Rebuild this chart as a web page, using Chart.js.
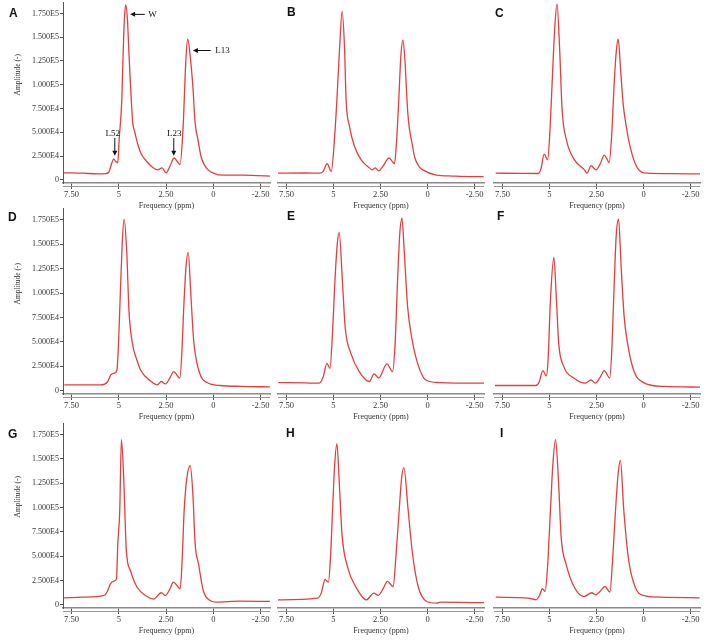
<!DOCTYPE html>
<html lang="en">

<head>
    <meta charset="UTF-8" />
    <title>Spectra A-I</title>
    <script src="https://cdn.jsdelivr.net/npm/chart.js"></script>
    <style>
        body {
            margin: 0;
            background: #fff;
            font-family: "Liberation Serif", serif;
        }

        #wrap {
            position: relative;
            width: 708px;
            height: 642px;
            overflow: hidden;
        }

        canvas {
            position: absolute;
        }

        .letter {
            position: absolute;
            font: bold 12px "Liberation Sans", Arial, sans-serif;
            line-height: 1;
            color: #111;
        }

        .amp {
            position: absolute;
            width: 70px;
            font-size: 7.5px;
            line-height: 1;
            color: #333;
            text-align: center;
            white-space: nowrap;
            transform: rotate(-90deg);
        }
    </style>
</head>

<body>
    <div id="wrap"></div>

    <script>
        // axis ticks
        const yTicks = [0, 25000, 50000, 75000, 100000, 125000, 150000, 175000];
        const xTicks = [7.5, 5, 2.5, 0, -2.5];
        const xTickLabels = ['7.50', '5', '2.50', '0', '-2.50'];

        // spectra (ppm, amplitude)
        const ppmA = [7.93, 6.9, 6.12, 5.7, 5.53, 5.38, 5.27, 5.15, 5.05, 4.98, 4.84, 4.77, 4.7, 4.63, 4.54, 4.47, 4.36, 4.26, 4.15, 4.0, 3.83, 3.46, 3.2, 2.93, 2.71, 2.5, 2.3, 2.07, 1.9, 1.76, 1.61, 1.44, 1.35, 1.2, 1.08, 0.96, 0.81, 0.64, 0.48, 0.27, 0, -0.43, -1.49, -2.3, -3.0];
        const ampA = [7400, 7000, 6300, 6500, 8000, 17000, 22000, 19000, 18000, 42000, 84000, 132000, 170000, 184000, 168000, 137000, 92000, 60000, 50000, 38000, 28000, 18000, 13000, 10500, 12600, 7400, 14000, 23000, 19000, 16000, 50000, 130000, 148000, 126000, 98000, 60000, 42000, 24000, 16000, 10500, 7000, 5000, 5000, 4500, 4000];

        const ppmB = [7.98, 6.5, 5.74, 5.55, 5.34, 5.12, 4.95, 4.82, 4.68, 4.54, 4.41, 4.33, 4.15, 3.88, 3.53, 3.09, 2.95, 2.78, 2.6, 2.35, 2.05, 1.9, 1.76, 1.65, 1.53, 1.42, 1.31, 1.2, 1.13, 1.05, 0.96, 0.82, 0.69, 0.45, 0.25, -0.46, -1.3, -2.23, -2.98];
        const ampB = [7000, 7200, 7000, 9000, 17000, 8800, 42000, 84000, 137000, 177000, 137000, 84000, 56000, 35000, 21000, 12600, 10500, 12600, 9500, 15000, 23000, 20000, 17000, 40000, 84000, 130000, 147000, 125000, 98000, 70000, 53000, 38000, 24000, 14000, 10500, 5000, 4000, 3500, 3500];

        const ppmC = [7.86, 6.5, 5.6, 5.45, 5.28, 5.1, 4.98, 4.86, 4.72, 4.6, 4.46, 4.33, 4.1, 3.67, 3.14, 3.0, 2.79, 2.53, 2.3, 2.09, 1.95, 1.83, 1.7, 1.56, 1.45, 1.35, 1.21, 1.09, 0.95, 0.68, 0.33, -0.19, -1.5, -3.0];
        const ampC = [7000, 6800, 6700, 12000, 27000, 21000, 50000, 102000, 160000, 185000, 137000, 74000, 42000, 21000, 10500, 7000, 15000, 10500, 17000, 26000, 22000, 18000, 45000, 102000, 135000, 148000, 113000, 81000, 60000, 32000, 12600, 7000, 6500, 6300];

        const ppmD = [7.88, 5.95, 5.6, 5.42, 5.25, 5.1, 5.02, 4.93, 4.82, 4.72, 4.58, 4.46, 4.28, 4.05, 3.84, 3.32, 2.96, 2.75, 2.53, 2.3, 2.09, 1.77, 1.66, 1.56, 1.45, 1.33, 1.17, 1.04, 0.77, 0.33, -0.37, -1.5, -3.0];
        const ampD = [6100, 6100, 9000, 16300, 18000, 21000, 45000, 92600, 150000, 175700, 143000, 82000, 48500, 32000, 21000, 10000, 6000, 9500, 7000, 13000, 19600, 13000, 40000, 86000, 125000, 141700, 92600, 52000, 21000, 8400, 5400, 4500, 4000];

        const ppmE = [7.93, 6.5, 5.76, 5.55, 5.35, 5.19, 5.05, 4.93, 4.8, 4.7, 4.52, 4.38, 4.07, 3.63, 3.1, 2.84, 2.6, 2.16, 1.86, 1.72, 1.6, 1.48, 1.36, 1.24, 1.06, 0.88, 0.53, 0.09, -0.62, -2.75, -3.0];
        const ampE = [8400, 8000, 7800, 14000, 28000, 23000, 60000, 110000, 150000, 162000, 110000, 65000, 38000, 19600, 9500, 17300, 13000, 27500, 19600, 50000, 110000, 160000, 176700, 143000, 86000, 58700, 28000, 11000, 8400, 7800, 7800];

        const ppmF = [7.9, 5.74, 5.55, 5.35, 5.17, 5.08, 4.95, 4.77, 4.63, 4.51, 4.24, 3.71, 3.09, 2.79, 2.56, 2.3, 2.09, 1.8, 1.68, 1.56, 1.45, 1.33, 1.19, 1.03, 0.88, 0.53, 0, -1.06, -3.0];
        const ampF = [5400, 5400, 9000, 20700, 15300, 30000, 92600, 136600, 92600, 48500, 24700, 13000, 7800, 11000, 7800, 14000, 20700, 13000, 45000, 110000, 160000, 175700, 126000, 75600, 52000, 21000, 8400, 4400, 3800];

        const ppmG = [7.89, 6.84, 5.77, 5.6, 5.44, 5.26, 5.12, 5.05, 4.95, 4.86, 4.74, 4.6, 4.38, 4.03, 3.5, 3.16, 2.75, 2.54, 2.3, 2.11, 1.75, 1.65, 1.54, 1.4, 1.22, 1.08, 0.96, 0.78, 0.53, 0.17, -0.18, -1.4, -3.0];
        const ampG = [7200, 7800, 9600, 14000, 21600, 24300, 26800, 62800, 96000, 170000, 131000, 56000, 35000, 18000, 8500, 5800, 12400, 9600, 16000, 23300, 16500, 45000, 97000, 130000, 143000, 114000, 62800, 42000, 14700, 4400, 2700, 3700, 3500];

        const ppmH = [7.96, 5.86, 5.65, 5.45, 5.27, 5.17, 5.05, 4.95, 4.82, 4.69, 4.55, 4.25, 3.8, 3.26, 2.85, 2.63, 2.35, 2.13, 1.83, 1.68, 1.51, 1.38, 1.26, 1.03, 0.8, 0.49, 0.04, -0.5, -0.68, -2.83, -3.0];
        const ampH = [5100, 6800, 12000, 26000, 23300, 45000, 97000, 140000, 165700, 124600, 73000, 38700, 18000, 5100, 12000, 9600, 17000, 24000, 18800, 50000, 97000, 130000, 141000, 97000, 52500, 18000, 3400, 1700, 2700, 2300, 2300];

        const ppmI = [7.86, 6.14, 5.7, 5.52, 5.38, 5.23, 5.1, 4.95, 4.82, 4.68, 4.53, 4.38, 4.12, 3.68, 3.16, 2.75, 2.54, 2.3, 2.05, 1.79, 1.65, 1.49, 1.35, 1.23, 1.05, 0.79, 0.44, 0, -0.88, -2.98];
        const ampI = [7800, 6800, 5100, 10000, 16500, 13700, 40000, 97000, 145000, 170000, 131000, 69600, 42000, 18000, 8500, 12400, 10300, 14000, 18800, 13000, 45000, 97000, 135000, 148500, 97000, 45600, 18000, 9600, 7800, 7200];

        // panel A labels with arrows (data coordinates)
        const notes = [
            { text: 'W', tail: [3.62, 174000], tip: [4.4, 174000], at: [3.44, 174000], align: 'left' },
            { text: 'L13', tail: [0.14, 136000], tip: [1.08, 136000], at: [-0.1, 136000], align: 'left' },
            { text: 'L52', tail: [5.21, 44000], tip: [5.21, 25300], at: [5.32, 48800], align: 'center' },
            { text: 'L23', tail: [2.09, 44000], tip: [2.09, 25300], at: [2.07, 48800], align: 'center' }
        ];

        const panels = [
            ['A', ppmA, ampA], ['B', ppmB, ampB], ['C', ppmC, ampC],
            ['D', ppmD, ampD], ['E', ppmE, ampE], ['F', ppmF, ampF],
            ['G', ppmG, ampG], ['H', ppmH, ampH], ['I', ppmI, ampI]
        ];

        const cols = [
            { left: 0, width: 276, padL: 0, padR: 6, yAxis: true },
            { left: 272, width: 218, padL: 6, padR: 6, yAxis: false },
            { left: 488, width: 220, padL: 6, padR: 8, yAxis: false }
        ];
        const rows = [
            { top: 0, plotH: 181 },
            { top: 206, plotH: 186 },
            { top: 421, plotH: 185 }
        ];
        const letterPos = [[9, 7], [287, 6], [495, 7], [8, 211], [287, 210], [497, 210], [8, 428], [286, 427], [500, 427]];
        const ampCenters = [75, 284, 497];

        const lineColor = 'rgb(229, 62, 62)';
        const serif = "'Liberation Serif', 'Times New Roman', serif";

        function yLabel(v) {
            return v === 0 ? '0' : v.toExponential(3).replace('e+', 'E');
        }

        const doubleLine = {
            id: 'doubleLine',
            afterDraw(chart) {
                const { ctx, chartArea } = chart;
                ctx.save();
                ctx.strokeStyle = '#9a9a9a';
                ctx.lineWidth = 1;
                ctx.beginPath();
                ctx.moveTo(chartArea.left, chartArea.bottom + 3.5);
                ctx.lineTo(chartArea.right, chartArea.bottom + 3.5);
                ctx.stroke();
                ctx.restore();
            }
        };

        const arrowNotes = {
            id: 'arrowNotes',
            afterDatasetsDraw(chart, args, opts) {
                const items = opts.items || [];
                if (!items.length) return;
                const { ctx } = chart;
                const x = chart.scales.x, y = chart.scales.y;
                ctx.save();
                ctx.strokeStyle = '#111';
                ctx.fillStyle = '#111';
                ctx.lineWidth = 1;
                items.forEach(n => {
                    const x0 = x.getPixelForValue(n.tail[0]), y0 = y.getPixelForValue(n.tail[1]);
                    const x1 = x.getPixelForValue(n.tip[0]), y1 = y.getPixelForValue(n.tip[1]);
                    const ang = Math.atan2(y1 - y0, x1 - x0);
                    ctx.beginPath();
                    ctx.moveTo(x0, y0);
                    ctx.lineTo(x1 - 4 * Math.cos(ang), y1 - 4 * Math.sin(ang));
                    ctx.stroke();
                    ctx.beginPath();
                    ctx.moveTo(x1, y1);
                    ctx.lineTo(x1 - 5 * Math.cos(ang) + 2.5 * Math.sin(ang), y1 - 5 * Math.sin(ang) - 2.5 * Math.cos(ang));
                    ctx.lineTo(x1 - 5 * Math.cos(ang) - 2.5 * Math.sin(ang), y1 - 5 * Math.sin(ang) + 2.5 * Math.cos(ang));
                    ctx.closePath();
                    ctx.fill();
                    ctx.font = '9px ' + serif;
                    ctx.textAlign = n.align;
                    ctx.textBaseline = 'middle';
                    ctx.fillText(n.text, x.getPixelForValue(n.at[0]), y.getPixelForValue(n.at[1]));
                });
                ctx.restore();
            }
        };

        const wrap = document.getElementById('wrap');

        panels.forEach(([name, ppm, amp], i) => {
            const col = cols[i % 3];
            const row = rows[Math.floor(i / 3)];

            const canvas = document.createElement('canvas');
            canvas.width = col.width;
            canvas.height = 2 + row.plotH + 28;
            canvas.style.left = col.left + 'px';
            canvas.style.top = row.top + 'px';
            wrap.appendChild(canvas);

            const letter = document.createElement('div');
            letter.className = 'letter';
            letter.textContent = name;
            letter.style.left = letterPos[i][0] + 'px';
            letter.style.top = letterPos[i][1] + 'px';
            wrap.appendChild(letter);

            if (col.yAxis) {
                const label = document.createElement('div');
                label.className = 'amp';
                label.textContent = 'Amplitude (-)';
                label.style.left = (18 - 35) + 'px';
                label.style.top = (ampCenters[Math.floor(i / 3)] - 4) + 'px';
                wrap.appendChild(label);
            }

            new Chart(canvas, {
                type: 'line',
                data: {
                    datasets: [{
                        data: ppm.map((p, k) => ({ x: p, y: amp[k] })),
                        borderColor: lineColor,
                        borderWidth: 1.3,
                        pointRadius: 0,
                        cubicInterpolationMode: 'monotone',
                        fill: false
                    }]
                },
                options: {
                    responsive: false,
                    animation: false,
                    layout: { padding: { top: 2, left: col.padL, right: col.padR, bottom: 0 } },
                    plugins: {
                        legend: { display: false },
                        tooltip: { enabled: false },
                        arrowNotes: { items: name === 'A' ? notes : [] }
                    },
                    scales: {
                        x: {
                            type: 'linear',
                            reverse: true,
                            min: -3.0,
                            max: 7.95,
                            afterBuildTicks: s => { s.ticks = xTicks.map(v => ({ value: v })); },
                            afterFit: s => { s.height = 28; s.paddingLeft = 0; s.paddingRight = 0; },
                            ticks: {
                                autoSkip: false,
                                maxRotation: 0,
                                padding: 1,
                                color: '#333',
                                font: { family: serif, size: 8.5 },
                                callback: v => xTickLabels[xTicks.indexOf(v)]
                            },
                            grid: { drawOnChartArea: false, tickLength: 6, color: '#555' },
                            border: { color: '#8a8a8a', width: 1.5 },
                            title: {
                                display: true,
                                text: 'Frequency (ppm)',
                                color: '#333',
                                padding: 0,
                                font: { family: serif, size: 8 }
                            }
                        },
                        y: {
                            display: col.yAxis,
                            min: -3300,
                            max: 187000,
                            afterBuildTicks: s => { s.ticks = yTicks.map(v => ({ value: v })); },
                            afterFit: s => {
                                if (!col.yAxis) return;
                                s.width = 63; s.paddingTop = 0; s.paddingBottom = 0;
                            },
                            ticks: {
                                padding: 1,
                                color: '#333',
                                font: { family: serif, size: 8 },
                                callback: v => yLabel(v)
                            },
                            grid: { drawOnChartArea: false, tickLength: 3, color: '#555' },
                            border: { color: '#555', width: 1 }
                        }
                    }
                },
                plugins: [doubleLine, arrowNotes]
            });
        });
    </script>
</body>

</html>
